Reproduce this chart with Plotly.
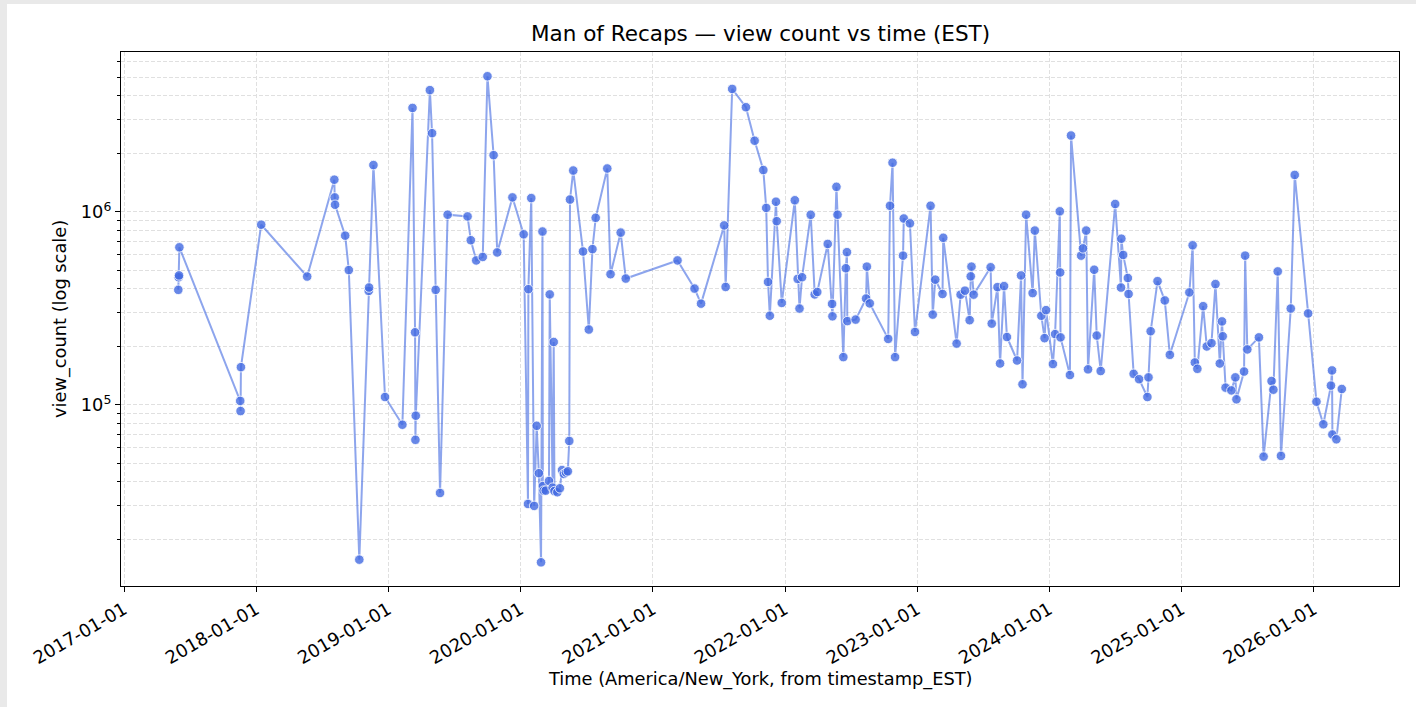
import plotly.graph_objects as go

# ---- data ----
dates = [
    "2017-05-31", "2017-06-01", "2017-06-02", "2017-06-03",
    "2017-11-18", "2017-11-19", "2017-11-20",
    "2018-01-15", "2018-05-22", "2018-08-05", "2018-08-06", "2018-08-07",
    "2018-09-04", "2018-09-14", "2018-10-13", "2018-11-08", "2018-11-09",
    "2018-11-21", "2018-12-23",
    "2019-02-09", "2019-03-09", "2019-03-16", "2019-03-17", "2019-03-18",
    "2019-04-26", "2019-05-02", "2019-05-12", "2019-05-24", "2019-06-14",
    "2019-08-08", "2019-08-17", "2019-09-01", "2019-09-19", "2019-10-02",
    "2019-10-19", "2019-10-29", "2019-12-10",
    "2020-01-10", "2020-01-22", "2020-01-23", "2020-01-31", "2020-02-08",
    "2020-02-15", "2020-02-21", "2020-02-27", "2020-03-02", "2020-03-03",
    "2020-03-05", "2020-03-11", "2020-03-20", "2020-03-22", "2020-03-30",
    "2020-04-02", "2020-04-04", "2020-04-12", "2020-04-19", "2020-04-25",
    "2020-04-30", "2020-05-06", "2020-05-11", "2020-05-15", "2020-05-17",
    "2020-05-26", "2020-06-22", "2020-07-08", "2020-07-18", "2020-07-27",
    "2020-08-28", "2020-09-06", "2020-10-04", "2020-10-18",
    "2021-03-10", "2021-04-26", "2021-05-14", "2021-07-17", "2021-07-21",
    "2021-08-08", "2021-09-15", "2021-10-09", "2021-11-02", "2021-11-10",
    "2021-11-15", "2021-11-20", "2021-12-07", "2021-12-09", "2021-12-23",
    "2022-01-28", "2022-02-05", "2022-02-10", "2022-02-17", "2022-03-13",
    "2022-03-24", "2022-03-31", "2022-04-29", "2022-05-11", "2022-05-12",
    "2022-05-23", "2022-05-26", "2022-06-11", "2022-06-18", "2022-06-21",
    "2022-06-22", "2022-07-15", "2022-08-13", "2022-08-15", "2022-08-23",
    "2022-10-13", "2022-10-18", "2022-10-25", "2022-11-01", "2022-11-23",
    "2022-11-25", "2022-12-12", "2022-12-26",
    "2023-02-07", "2023-02-13", "2023-02-20", "2023-03-12", "2023-03-14",
    "2023-04-20", "2023-05-01", "2023-05-13", "2023-05-26", "2023-05-29",
    "2023-05-31", "2023-06-06", "2023-07-23", "2023-07-26", "2023-08-11",
    "2023-08-18", "2023-08-29", "2023-09-06", "2023-10-04", "2023-10-15",
    "2023-10-19", "2023-10-29", "2023-11-16", "2023-11-22", "2023-12-10",
    "2023-12-19", "2023-12-23",
    "2024-01-11", "2024-01-17", "2024-01-30", "2024-01-31", "2024-02-01",
    "2024-02-27", "2024-03-01", "2024-03-29", "2024-04-03", "2024-04-12",
    "2024-04-17", "2024-05-04", "2024-05-11", "2024-05-22", "2024-07-01",
    "2024-07-17", "2024-07-18", "2024-07-23", "2024-08-05", "2024-08-07",
    "2024-08-21", "2024-09-05", "2024-09-28", "2024-10-01", "2024-10-07",
    "2024-10-26", "2024-11-15", "2024-11-29",
    "2025-01-22", "2025-01-31", "2025-02-06", "2025-02-13", "2025-03-01",
    "2025-03-11", "2025-03-24", "2025-04-04", "2025-04-16", "2025-04-22",
    "2025-04-24", "2025-05-02", "2025-05-18", "2025-05-29", "2025-06-01",
    "2025-06-22", "2025-06-25", "2025-07-01", "2025-08-02", "2025-08-15",
    "2025-09-06", "2025-09-11", "2025-09-23", "2025-10-02", "2025-10-29",
    "2025-11-09", "2025-12-16",
    "2026-01-08", "2026-01-27", "2026-02-17", "2026-02-20", "2026-02-21",
    "2026-03-04", "2026-03-19",
]

view_counts = [
    395000, 459000, 469000, 656000,
    105000, 93000, 157000,
    859000, 463000, 1470000, 1190000, 1090000,
    754000, 500000, 15800, 390000, 406000,
    1750000, 110000,
    79000, 3460000, 238000, 66000, 88000,
    4280000, 2560000, 395000, 35000, 968000,
    948000, 714000, 561000, 585000, 5050000,
    1970000, 617000, 1190000,
    766000, 30700, 398000, 1180000, 30000,
    78000, 44300, 15300, 792000, 38000,
    36000, 36000, 40400, 374000, 37300,
    212000, 35800, 35300, 37000, 46000,
    43900, 44700, 45300, 65100, 1160000,
    1640000, 624000, 246000, 642000, 933000,
    1680000, 476000, 782000, 452000,
    561000, 401000, 335000, 852000, 409000,
    4340000, 3490000, 2340000, 1650000, 1050000,
    434000, 290000, 1130000, 896000, 338000,
    1150000, 450000, 316000, 459000, 967000,
    374000, 385000, 683000, 334000, 288000,
    1350000, 968000, 177000, 511000, 619000,
    272000, 277000, 356000, 521000, 336000,
    220000, 1077000, 1800000, 177000, 594000,
    925000, 873000, 239000,
    1077000, 294000, 446000, 376000, 735000,
    208000, 373000, 391000, 275000, 464000,
    521000, 373000, 517000, 264000, 408000,
    164000, 413000, 225000, 170000, 469000,
    128000, 968000, 380000, 801000, 290000,
    222000, 310000,
    163000, 233000, 1008000, 486000, 224000,
    143000, 2490000, 594000, 648000, 801000,
    153000, 502000, 229000, 150000, 1100000,
    406000, 727000, 599000, 455000, 376000,
    145000, 136000, 110000, 139000, 241000,
    438000, 348000, 182000,
    383000, 672000, 166000, 154000, 325000,
    201000, 209000, 423000, 164000, 271000,
    227000, 123000, 119000, 139000, 107000,
    149000, 594000, 194000, 224000, 54000,
    133000, 120000, 492000, 54500, 316000,
    1556000, 298000,
    104000, 79400, 126000, 151000, 70300,
    66400, 121000,
]

year_ticks = ["2017-01-01", "2018-01-01", "2019-01-01", "2020-01-01", "2021-01-01",
              "2022-01-01", "2023-01-01", "2024-01-01", "2025-01-01", "2026-01-01"]
y_major = [1e5, 1e6]
y_major_text = ["10<sup>5</sup>", "10<sup>6</sup>"]
y_minor = [2e4, 3e4, 4e4, 5e4, 6e4, 7e4, 8e4, 9e4,
           2e5, 3e5, 4e5, 5e5, 6e5, 7e5, 8e5, 9e5,
           2e6, 3e6, 4e6, 5e6, 6e6]

title_text = "Man of Recaps — view count vs time (EST)"
x_title = "Time (America/New_York, from timestamp_EST)"
y_title = "view_count (log scale)"

# ---- figure ----
W, H = 1416, 707
L, R, T, B = 121, 17, 52, 121
PW, PH = W - L - R, H - T - B

def px_x(p):
    return (p - L) / PW

def px_y(p):
    return (H - B - p) / PH

FONT = "DejaVu Sans"
GRID = "#e0e0e0"
DASH = "4px,2px"
TICK_SIZE = 18
LABEL_SIZE = 17.8

fig = go.Figure()
fig.add_trace(go.Scatter(
    x=dates, y=view_counts, mode="lines+markers",
    line=dict(color="rgba(65,105,225,0.6)", width=2),
    marker=dict(color="rgba(65,105,225,0.8)", size=9.5,
                line=dict(color="white", width=0.8)),
    showlegend=False,
))

fig.update_layout(
    width=W, height=H,
    margin=dict(l=L, r=R, t=T, b=B, pad=0),
    paper_bgcolor="white", plot_bgcolor="white",
    font=dict(family=FONT, size=TICK_SIZE, color="black"),
    xaxis=dict(
        type="date",
        range=["2016-12-23 17:00", "2026-08-24"],
        tickmode="array", tickvals=year_ticks, ticktext=year_ticks,
        tickangle=-30, ticks="outside", ticklen=5, tickwidth=1, tickcolor="black",
        showline=True, linecolor="black", linewidth=1.2, mirror=True,
        showgrid=True, gridcolor=GRID, griddash=DASH, gridwidth=1,
        zeroline=False, tickfont=dict(size=TICK_SIZE, family=FONT, color="black"),
    ),
    yaxis=dict(
        type="log", range=[4.062, 6.829],
        tickmode="array", tickvals=y_major, ticktext=y_major_text,
        ticks="outside", ticklen=5, tickwidth=1, tickcolor="black",
        showline=True, linecolor="black", linewidth=1.2, mirror=True,
        showgrid=True, gridcolor=GRID, griddash=DASH, gridwidth=1,
        zeroline=False, tickfont=dict(size=LABEL_SIZE, family=FONT, color="black"),
        minor=dict(tickmode="array", tickvals=y_minor, ticks="outside", ticklen=3,
                   tickwidth=0.8, tickcolor="black",
                   showgrid=True, gridcolor=GRID, griddash=DASH, gridwidth=1),
    ),
    annotations=[
        dict(text=title_text, xref="paper", yref="paper", x=0.5, y=px_y(34),
             xanchor="center", yanchor="middle", showarrow=False,
             font=dict(size=21.5, family=FONT, color="black")),
        dict(text=x_title, xref="paper", yref="paper", x=0.5, y=px_y(679),
             xanchor="center", yanchor="middle", showarrow=False,
             font=dict(size=LABEL_SIZE, family=FONT, color="black")),
        dict(text=y_title, xref="paper", yref="paper", x=px_x(60), y=0.5,
             xanchor="center", yanchor="middle", showarrow=False, textangle=-90,
             font=dict(size=LABEL_SIZE, family=FONT, color="black")),
    ],
    shapes=[
        dict(type="rect", xref="paper", yref="paper", layer="above",
             x0=px_x(0), x1=px_x(7), y0=px_y(H), y1=px_y(0),
             fillcolor="#e9e9e9", line=dict(width=0)),
        dict(type="rect", xref="paper", yref="paper", layer="above",
             x0=px_x(0), x1=px_x(W), y0=px_y(4), y1=px_y(0),
             fillcolor="#e9e9e9", line=dict(width=0)),
    ],
)

fig.write_html(
    "out.html",
    config={"displayModeBar": False},
    post_script="document.body.style.margin='0';document.body.style.overflow='hidden';",
)
